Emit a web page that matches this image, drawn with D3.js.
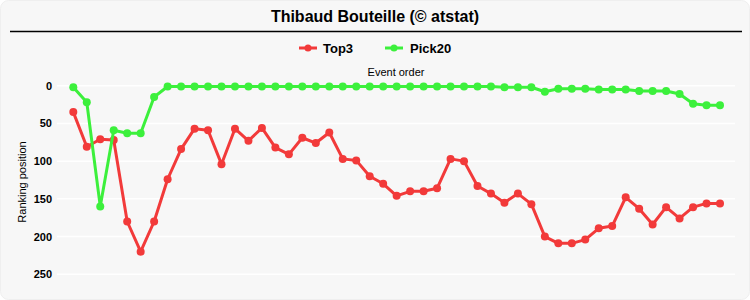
<!DOCTYPE html>
<html>
<head>
<meta charset="utf-8">
<script src="https://cdn.jsdelivr.net/npm/d3@7"></script>
<style>
  body { margin: 0; background: #fff; }
  text { font-family: "Liberation Sans", Arial, sans-serif; }
</style>
</head>
<body>
<script type="text/javascript">
"use strict";

// event index 1..49
var events = d3.range(1, 50);

var top3 = [35, 81, 71, 72, 180, 220, 180, 124, 84, 57,
            59, 104, 57, 73, 56, 82, 91, 69, 76, 62,
            97, 99, 120, 130, 146, 140, 140, 136, 97, 100,
            133, 143, 155, 143, 157, 200, 209, 209, 204, 189,
            186, 148, 163, 184, 161, 176, 161, 156, 156];

var pick20 = [2, 22, 160, 59, 63, 63, 15, 1, 1, 1,
              1, 1, 1, 1, 1, 1, 1, 1, 1, 1,
              1, 1, 1, 1, 1, 1, 1, 1, 1, 1,
              1, 1, 2, 2, 2, 8, 4, 4, 4, 5,
              5, 5, 7, 7, 7, 11, 24, 26, 26];

var yTicks = [0, 50, 100, 150, 200, 250];

var series = [
  {name: "Top3", values: top3, color: "#f23a3a"},
  {name: "Pick20", values: pick20, color: "#3cf03c"}
];

var W = 750, H = 300;
var svg = d3.select("body").append("svg")
    .attr("width", W)
    .attr("height", H);

// panel background
svg.append("rect")
    .attr("x", 0.5).attr("y", 0.5)
    .attr("width", W - 1).attr("height", H - 1)
    .attr("rx", 8)
    .style("fill", "#f7f7f7")
    .style("stroke", "#efefef");

// title
svg.append("text")
    .attr("x", 375).attr("y", 22)
    .attr("text-anchor", "middle")
    .style("font-size", "16px")
    .style("font-weight", "bold")
    .text("Thibaud Bouteille (\u00a9 atstat)");

svg.append("line")
    .attr("x1", 10).attr("x2", 742)
    .attr("y1", 31.5).attr("y2", 31.5)
    .style("stroke", "#000")
    .style("stroke-width", 1.5);

// scales
var x = d3.scalePoint().domain(events).range([73.3, 720]);
var y = d3.scaleLinear().domain([0, 250]).range([85.7, 274.3]);

// gridlines
svg.append("g").selectAll("line")
    .data(yTicks)
    .enter().append("line")
    .attr("x1", 57).attr("x2", 735)
    .attr("y1", function(d) { return y(d); })
    .attr("y2", function(d) { return y(d); })
    .style("stroke", "#ffffff")
    .style("stroke-width", 1.5);

// y axis labels
var yAxis = d3.axisLeft(y).tickValues(yTicks).tickSize(0).tickPadding(0);
var gy = svg.append("g")
    .attr("transform", "translate(52,0)")
    .call(yAxis);
gy.select(".domain").remove();
gy.selectAll("text")
    .style("font-family", "'Liberation Sans', Arial, sans-serif")
    .style("font-size", "11px")
    .style("font-weight", "bold")
    .attr("fill", "#000");

svg.append("text")
    .attr("transform", "translate(26,182) rotate(-90)")
    .attr("text-anchor", "middle")
    .style("font-size", "11px")
    .text("Ranking position");

svg.append("text")
    .attr("x", 396).attr("y", 76)
    .attr("text-anchor", "middle")
    .style("font-size", "11px")
    .text("Event order");

// lines
var line = d3.line()
    .x(function(d, i) { return x(events[i]); })
    .y(function(d) { return y(d); });

series.forEach(function(s) {
  var g = svg.append("g");
  g.append("path")
      .attr("d", line(s.values))
      .style("fill", "none")
      .style("stroke", s.color)
      .style("stroke-width", 3)
      .style("stroke-linejoin", "round");
  g.selectAll("circle")
      .data(s.values)
      .enter().append("circle")
      .attr("cx", function(d, i) { return x(events[i]); })
      .attr("cy", function(d) { return y(d); })
      .attr("r", 4)
      .style("fill", s.color);
});

// legend
var legend = [
  {name: "Top3", color: "#f23a3a", x: 299, tx: 323},
  {name: "Pick20", color: "#3cf03c", x: 385, tx: 410}
];
legend.forEach(function(l) {
  svg.append("line")
      .attr("x1", l.x).attr("x2", l.x + 18)
      .attr("y1", 48).attr("y2", 48)
      .style("stroke", l.color)
      .style("stroke-width", 3);
  svg.append("circle")
      .attr("cx", l.x + 9).attr("cy", 48).attr("r", 3.5)
      .style("fill", l.color);
  svg.append("text")
      .attr("x", l.tx).attr("y", 53)
      .style("font-size", "13px")
      .style("font-weight", "bold")
      .text(l.name);
});
</script>
</body>
</html>
